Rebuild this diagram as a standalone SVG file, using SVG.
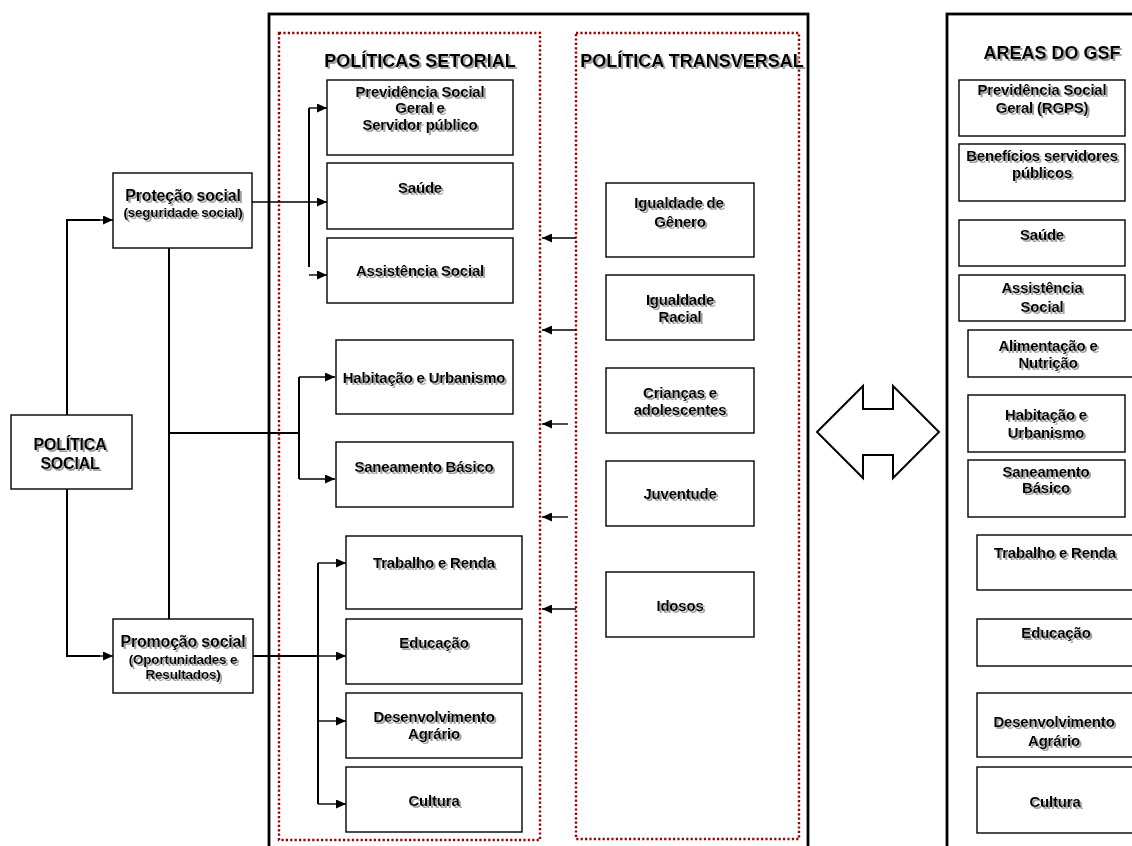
<svg xmlns="http://www.w3.org/2000/svg" width="1132" height="846" viewBox="0 0 1132 846">
<style>
  .box { fill: #fff; stroke: #000; stroke-width: 1.4; }
  .frame { fill: none; stroke: #000; stroke-width: 2.8; }
  .dot { fill: none; stroke: #9a0000; stroke-width: 2.4; stroke-dasharray: 2.2 2.2; }
  .t { font-family: "Liberation Sans", Arial, sans-serif; font-weight: bold; font-size: 15px; fill: #000; text-anchor: middle; letter-spacing: -0.2px; filter: url(#sh); }
  .big { font-size: 16px; }
  .sub { font-size: 13.5px; }
  .title { font-size: 18px; letter-spacing: 0; }
  .thick { fill: none; stroke: #000; stroke-width: 2; }
  .arr { fill: none; stroke: #000; stroke-width: 1.4; marker-end: url(#ah); }
  .dbl { fill: #fff; stroke: #000; stroke-width: 2; stroke-linejoin: miter; }
</style>
<defs>
  <filter id="sh" x="-10%" y="-30%" width="125%" height="170%">
    <feOffset in="SourceAlpha" dx="1.5" dy="1.5" result="o"/>
    <feFlood flood-color="#a0a0a0"/>
    <feComposite in2="o" operator="in" result="s"/>
    <feMerge><feMergeNode in="s"/><feMergeNode in="SourceGraphic"/></feMerge>
  </filter>
  <marker id="ah" markerUnits="userSpaceOnUse" markerWidth="11" markerHeight="9" refX="10" refY="4.5" orient="auto">
    <path d="M0,0 L10,4.5 L0,9 z" fill="#000"/>
  </marker>
</defs>
<rect width="1132" height="846" fill="#fff"/>

<g id="frames">
  <rect class="frame" x="269" y="14" width="539" height="850"/>
  <rect class="frame" x="947" y="14" width="200" height="850"/>
  <rect class="dot" x="279" y="33" width="261" height="807"/>
  <rect class="dot" x="576" y="33" width="223" height="806"/>
  <text class="t title" x="420" y="67">POLÍTICAS SETORIAL</text>
  <text class="t title" x="692" y="67">POLÍTICA TRANSVERSAL</text>
  <text class="t title" x="1052" y="59">AREAS DO GSF</text>
</g>

<g id="connectors">
  <polyline class="thick" points="67,415 67,220 100,220"/>
  <line class="arr" x1="98" y1="220" x2="113" y2="220"/>
  <polyline class="thick" points="67,489 67,656 100,656"/>
  <line class="arr" x1="98" y1="656" x2="113" y2="656"/>
  <line class="arr" x1="252" y1="202" x2="327" y2="202"/>
  <line class="thick" x1="309" y1="108" x2="309" y2="267"/>
  <line class="arr" x1="309" y1="108" x2="327" y2="108"/>
  <line class="arr" x1="309" y1="275" x2="327" y2="275"/>
  <line class="thick" x1="169" y1="248" x2="169" y2="619"/>
  <line class="thick" x1="169" y1="433" x2="299" y2="433"/>
  <line class="thick" x1="299" y1="377" x2="299" y2="479"/>
  <line class="arr" x1="299" y1="377" x2="335" y2="377"/>
  <line class="arr" x1="299" y1="479" x2="335" y2="479"/>
  <line class="thick" x1="253" y1="656" x2="318" y2="656"/>
  <line class="thick" x1="318" y1="563" x2="318" y2="804"/>
  <line class="arr" x1="318" y1="563" x2="346" y2="563"/>
  <line class="arr" x1="318" y1="656" x2="346" y2="656"/>
  <line class="arr" x1="318" y1="721" x2="346" y2="721"/>
  <line class="arr" x1="318" y1="804" x2="346" y2="804"/>
  <line class="arr" x1="576" y1="238" x2="542" y2="238"/>
  <line class="arr" x1="576" y1="330" x2="542" y2="330"/>
  <line class="arr" x1="568" y1="424" x2="542" y2="424"/>
  <line class="arr" x1="568" y1="517" x2="542" y2="517"/>
  <line class="arr" x1="576" y1="609" x2="542" y2="609"/>
  <polygon class="dbl" points="817,432 863,386 863,409 893,409 893,386 939,432 893,478 893,455 863,455 863,478"/>
</g>

<g id="politica-social">
  <rect class="box" x="11" y="415" width="121" height="74"/>
  <text class="t big" x="70" y="450">POLÍTICA</text>
  <text class="t big" x="70" y="469">SOCIAL</text>
</g>
<g id="protecao-social">
  <rect class="box" x="113" y="173" width="139" height="75"/>
  <text class="t big" x="183" y="201">Proteção social</text>
  <text class="t sub" x="183" y="217">(seguridade social)</text>
</g>
<g id="promocao-social">
  <rect class="box" x="113" y="619" width="140" height="74"/>
  <text class="t big" x="183" y="647">Promoção social</text>
  <text class="t sub" x="183" y="664">(Oportunidades e</text>
  <text class="t sub" x="183" y="679">Resultados)</text>
</g>

<g id="previdencia">
  <rect class="box" x="327" y="80" width="186" height="75"/>
  <text class="t" x="420" y="97">Previdência Social</text>
  <text class="t" x="420" y="113">Geral  e</text>
  <text class="t" x="420" y="130">Servidor público</text>
</g>
<g id="saude">
  <rect class="box" x="327" y="163" width="186" height="66"/>
  <text class="t" x="420" y="193">Saúde</text>
</g>
<g id="assistencia">
  <rect class="box" x="327" y="238" width="186" height="65"/>
  <text class="t" x="420" y="276">Assistência Social</text>
</g>
<g id="habitacao">
  <rect class="box" x="336" y="340" width="177" height="74"/>
  <text class="t" x="424" y="383">Habitação e Urbanismo</text>
</g>
<g id="saneamento">
  <rect class="box" x="336" y="442" width="177" height="65"/>
  <text class="t" x="424" y="472">Saneamento Básico</text>
</g>
<g id="trabalho">
  <rect class="box" x="346" y="536" width="176" height="73"/>
  <text class="t" x="434" y="568">Trabalho e Renda</text>
</g>
<g id="educacao">
  <rect class="box" x="346" y="619" width="176" height="65"/>
  <text class="t" x="434" y="648">Educação</text>
</g>
<g id="desenvolvimento">
  <rect class="box" x="346" y="693" width="176" height="65"/>
  <text class="t" x="434" y="722">Desenvolvimento</text>
  <text class="t" x="434" y="739">Agrário</text>
</g>
<g id="cultura">
  <rect class="box" x="346" y="767" width="176" height="65"/>
  <text class="t" x="434" y="806">Cultura</text>
</g>

<g id="genero">
  <rect class="box" x="606" y="183" width="148" height="74"/>
  <text class="t" x="679" y="208">Igualdade de</text>
  <text class="t" x="680" y="227">Gênero</text>
</g>
<g id="racial">
  <rect class="box" x="606" y="275" width="148" height="65"/>
  <text class="t" x="680" y="305">Igualdade</text>
  <text class="t" x="680" y="322">Racial</text>
</g>
<g id="criancas">
  <rect class="box" x="606" y="368" width="148" height="65"/>
  <text class="t" x="680" y="398">Crianças e</text>
  <text class="t" x="680" y="415">adolescentes</text>
</g>
<g id="juventude">
  <rect class="box" x="606" y="461" width="148" height="65"/>
  <text class="t" x="680" y="499">Juventude</text>
</g>
<g id="idosos">
  <rect class="box" x="606" y="572" width="148" height="65"/>
  <text class="t" x="680" y="611">Idosos</text>
</g>

<g id="gsf-previdencia">
  <rect class="box" x="959" y="80" width="166" height="56"/>
  <text class="t" x="1042" y="95">Previdência Social</text>
  <text class="t" x="1042" y="113">Geral  (RGPS)</text>
</g>
<g id="gsf-beneficios">
  <rect class="box" x="959" y="144" width="166" height="57"/>
  <text class="t" x="1042" y="161">Benefícios servidores</text>
  <text class="t" x="1042" y="178">públicos</text>
</g>
<g id="gsf-saude">
  <rect class="box" x="959" y="220" width="166" height="46"/>
  <text class="t" x="1042" y="240">Saúde</text>
</g>
<g id="gsf-assistencia">
  <rect class="box" x="959" y="275" width="166" height="46"/>
  <text class="t" x="1042" y="293">Assistência</text>
  <text class="t" x="1042" y="312">Social</text>
</g>
<g id="gsf-alimentacao">
  <rect class="box" x="968" y="330" width="180" height="47"/>
  <text class="t" x="1048" y="351">Alimentação e</text>
  <text class="t" x="1048" y="368">Nutrição</text>
</g>
<g id="gsf-habitacao">
  <rect class="box" x="968" y="395" width="157" height="57"/>
  <text class="t" x="1046" y="420">Habitação e</text>
  <text class="t" x="1046" y="438">Urbanismo</text>
</g>
<g id="gsf-saneamento">
  <rect class="box" x="968" y="460" width="157" height="57"/>
  <text class="t" x="1046" y="477">Saneamento</text>
  <text class="t" x="1046" y="493">Básico</text>
</g>
<g id="gsf-trabalho">
  <rect class="box" x="977" y="535" width="170" height="55"/>
  <text class="t" x="1055" y="558">Trabalho e Renda</text>
</g>
<g id="gsf-educacao">
  <rect class="box" x="977" y="619" width="170" height="47"/>
  <text class="t" x="1056" y="638">Educação</text>
</g>
<g id="gsf-desenvolvimento">
  <rect class="box" x="977" y="693" width="170" height="64"/>
  <text class="t" x="1054" y="727">Desenvolvimento</text>
  <text class="t" x="1054" y="746">Agrário</text>
</g>
<g id="gsf-cultura">
  <rect class="box" x="977" y="767" width="170" height="66"/>
  <text class="t" x="1055" y="807">Cultura</text>
</g>
</svg>
